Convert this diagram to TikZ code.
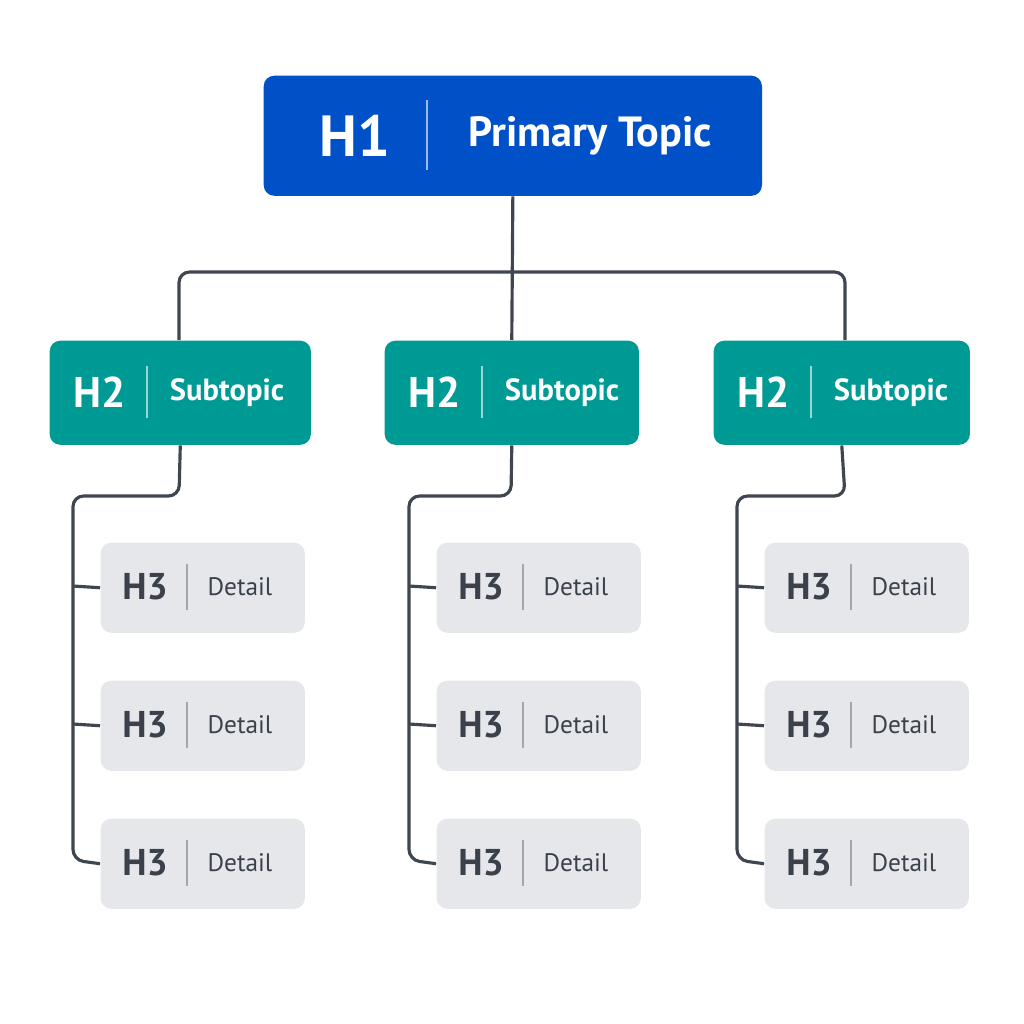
\documentclass[tikz,border=0pt]{standalone}
\usepackage{fontspec}
\setmainfont{PT Sans}
\begin{document}
\begin{tikzpicture}[x=0.01cm,y=-0.01cm,
  box/.style={draw=none,rounded corners=3pt,inner sep=0pt,anchor=north west},
  line/.style={draw=linec,line width=0.9pt,rounded corners=3pt},
  div/.style={line width=0.5pt}]
\definecolor{blue1}{HTML}{0050C8}
\definecolor{teal1}{HTML}{009A94}
\definecolor{gray1}{HTML}{E5E7EB}
\definecolor{linec}{HTML}{3F4650}
\definecolor{txt3}{HTML}{3A414B}
\useasboundingbox[fill=white] (0,0) rectangle (1024,1024);
% H1
\node[box,fill=blue1,minimum width=4.98cm,minimum height=1.20cm] (h1) at (263,75) {};
\node[text=white,font=\fontsize{16.5}{20}\selectfont\bfseries] (h1a) at (355,136) {H1};
\draw[div,draw=white!60!blue1] (427,100) -- (427,170);
\node[text=white,font=\fontsize{12}{16}\selectfont\bfseries] (h1b) at (590,136) {Primary Topic};
\foreach \n/\bx/\bw/\sx/\cx in {a/49/2.61/73/179, b/384/2.54/409/511, c/713/2.56/737/845}{
  \node[box,fill=teal1,minimum width=\bw cm,minimum height=1.04cm] (h2\n) at (\bx,340) {};
  \node[text=white,font=\fontsize{12.2}{16}\selectfont\bfseries] at (\bx+51,392) {H2};
  \draw[div,draw=white!60!teal1] (\bx+98,366) -- (\bx+98,418);
  \node[text=white,font=\fontsize{8.7}{13}\selectfont\bfseries] at (\bx+178,393) {Subtopic};
  \foreach \k/\y in {1/542,2/680,3/818}{
    \node[box,fill=gray1,minimum width=2.04cm,minimum height=0.90cm] (h3\n\k) at (\sx+27,\y) {};
    \node[text=txt3,font=\fontsize{10.6}{14}\selectfont\bfseries] at (\sx+72,\y+45) {H3};
    \draw[div,draw=gray!70] (\sx+114,\y+22) -- (\sx+114,\y+68);
    \node[text=txt3,font=\fontsize{7.2}{12}\selectfont] at (\sx+167,\y+45) {Detail};
  }
  \draw[line] (h2\n.south) -- (\cx,496) -- (\sx,496) -- (\sx,860) -- (h3\n3.west);
  \draw[line] (\sx,586) -- (h3\n1.west);
  \draw[line] (\sx,724) -- (h3\n2.west);
}
\draw[line] (h1.south) -- (h2b.north);
\draw[line] (179,340) -- (179,272) -- (845,272) -- (845,340);
\end{tikzpicture}
\end{document}
